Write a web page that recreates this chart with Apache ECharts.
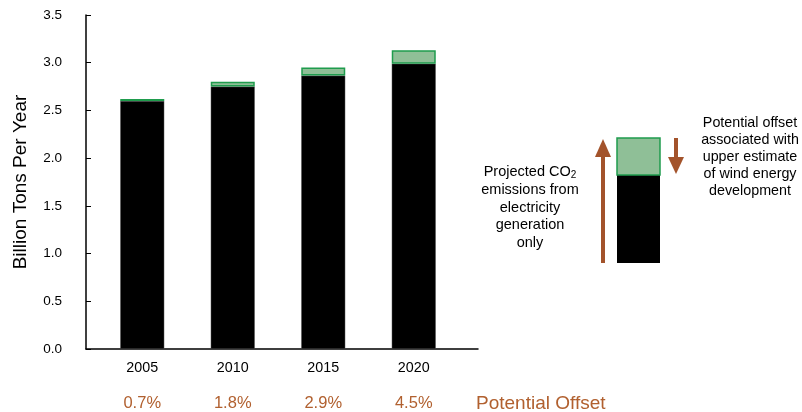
<!DOCTYPE html>
<html>
<head>
<meta charset="utf-8">
<script src="https://cdn.jsdelivr.net/npm/echarts@6/dist/echarts.min.js"></script>
<style>
  html, body { margin: 0; padding: 0; background: #fff; }
  #chart { width: 802px; height: 412px; }
</style>
</head>
<body>
<div id="chart"></div>
<script>
// Projected CO2 emissions from electricity generation (billion tons per year)
const years = ['2005', '2010', '2015', '2020'];
const emissions = [2.60, 2.75, 2.865, 2.99];     // remaining emissions (black)
const windOffset = [0.02, 0.05, 0.085, 0.14];    // potential offset from wind (green)
const offsetPct = ['0.7%', '1.8%', '2.9%', '4.5%'];
const yTicks = [0, 0.5, 1.0, 1.5, 2.0, 2.5, 3.0, 3.5];

const FONT = 'Liberation Sans, Arial, Helvetica, sans-serif';
const BROWN = '#b1602f';
const ARROW = '#a3532b';
const GREEN_FILL = '#8fbf97';
const GREEN_EDGE = '#1f9c4d';

const chart = echarts.init(document.getElementById('chart'), null, { renderer: 'canvas' });

const option = {
  animation: false,
  backgroundColor: '#fff',
  grid: [
    { left: 97, right: 343, top: 15, bottom: 63 },
    { left: 86, right: 324, top: 15, bottom: 63 }
  ],
  xAxis: [
    {
      type: 'category',
      gridIndex: 0,
      data: years,
      axisLine: { show: false },
      axisTick: { show: false },
      axisLabel: {
        margin: 2,
        fontFamily: FONT,
        formatter: function (v, i) {
          return '{y|' + v + '}\n{p|' + offsetPct[i] + '}';
        },
        rich: {
          y: { fontSize: 14.3, lineHeight: 35, color: '#000', fontFamily: FONT },
          p: { fontSize: 16.5, lineHeight: 35, color: BROWN, fontFamily: FONT }
        }
      }
    },
    {
      type: 'value',
      gridIndex: 1,
      min: 0, max: 1,
      axisLine: { show: true, lineStyle: { color: '#000', width: 1.5 } },
      axisTick: { show: false },
      axisLabel: { show: false },
      splitLine: { show: false }
    }
  ],
  yAxis: [
    {
      type: 'value',
      gridIndex: 0,
      min: 0, max: 3.5, interval: 0.5,
      offset: 11,
      name: 'Billion Tons Per Year',
      nameLocation: 'middle',
      nameGap: 56,
      nameTextStyle: { fontSize: 19, color: '#000', fontFamily: FONT },
      axisLine: { show: true, lineStyle: { color: '#000', width: 1.5 } },
      axisTick: { show: true, inside: true, length: 5, lineStyle: { color: '#000', width: 1 } },
      axisLabel: {
        margin: 24,
        fontSize: 13.5,
        color: '#000',
        fontFamily: FONT,
        formatter: v => (yTicks.indexOf(v) >= 0 ? v.toFixed(1) : '')
      },
      splitLine: { show: false }
    },
    {
      type: 'value',
      gridIndex: 1,
      show: false
    }
  ],
  series: [
    {
      name: 'Projected emissions',
      type: 'bar',
      stack: 'total',
      xAxisIndex: 0, yAxisIndex: 0,
      barWidth: 44,
      data: emissions,
      itemStyle: { color: '#000', borderColor: '#555', borderWidth: 0.5 }
    },
    {
      name: 'Wind offset',
      type: 'bar',
      stack: 'total',
      xAxisIndex: 0, yAxisIndex: 0,
      barWidth: 44,
      data: windOffset,
      itemStyle: { color: GREEN_FILL, borderColor: GREEN_EDGE, borderWidth: 1.5 }
    }
  ],
  graphic: [
    // "Potential Offset" row caption
    {
      type: 'text', x: 476, y: 404,
      style: { text: 'Potential Offset', fill: BROWN, font: '19px ' + FONT, textVerticalAlign: 'middle' }
    },
    // explanatory key: sample bar
    {
      type: 'rect', shape: { x: 617, y: 175, width: 43, height: 88 },
      style: { fill: '#000' }
    },
    {
      type: 'rect', shape: { x: 617, y: 138, width: 43, height: 37 },
      style: { fill: GREEN_FILL, stroke: GREEN_EDGE, lineWidth: 1.5 }
    },
    // up arrow (projected emissions)
    {
      type: 'rect', shape: { x: 601, y: 152, width: 4, height: 111 },
      style: { fill: ARROW }
    },
    {
      type: 'polygon', shape: { points: [[603, 139], [595, 157], [611, 157]] },
      style: { fill: ARROW }
    },
    // down arrow (offset)
    {
      type: 'rect', shape: { x: 674, y: 138, width: 4, height: 22 },
      style: { fill: ARROW }
    },
    {
      type: 'polygon', shape: { points: [[676, 174], [668, 157], [684, 157]] },
      style: { fill: ARROW }
    },
    // key captions
    {
      type: 'text', x: 530, y: 163.5,
      style: {
        text: 'Projected CO{s|2}\nemissions from\nelectricity\ngeneration\nonly',
        fill: '#000', font: '14.5px ' + FONT, textAlign: 'center', lineHeight: 17.6,
        rich: { s: { fontSize: 10, padding: [6, 0, 0, 0], fill: '#000', fontFamily: FONT } }
      }
    },
    {
      type: 'text', x: 750, y: 114,
      style: {
        text: 'Potential offset\nassociated with\nupper estimate\nof wind energy\ndevelopment',
        fill: '#000', font: '14.3px ' + FONT, textAlign: 'center', lineHeight: 17.2
      }
    }
  ]
};

chart.setOption(option);
</script>
</body>
</html>
